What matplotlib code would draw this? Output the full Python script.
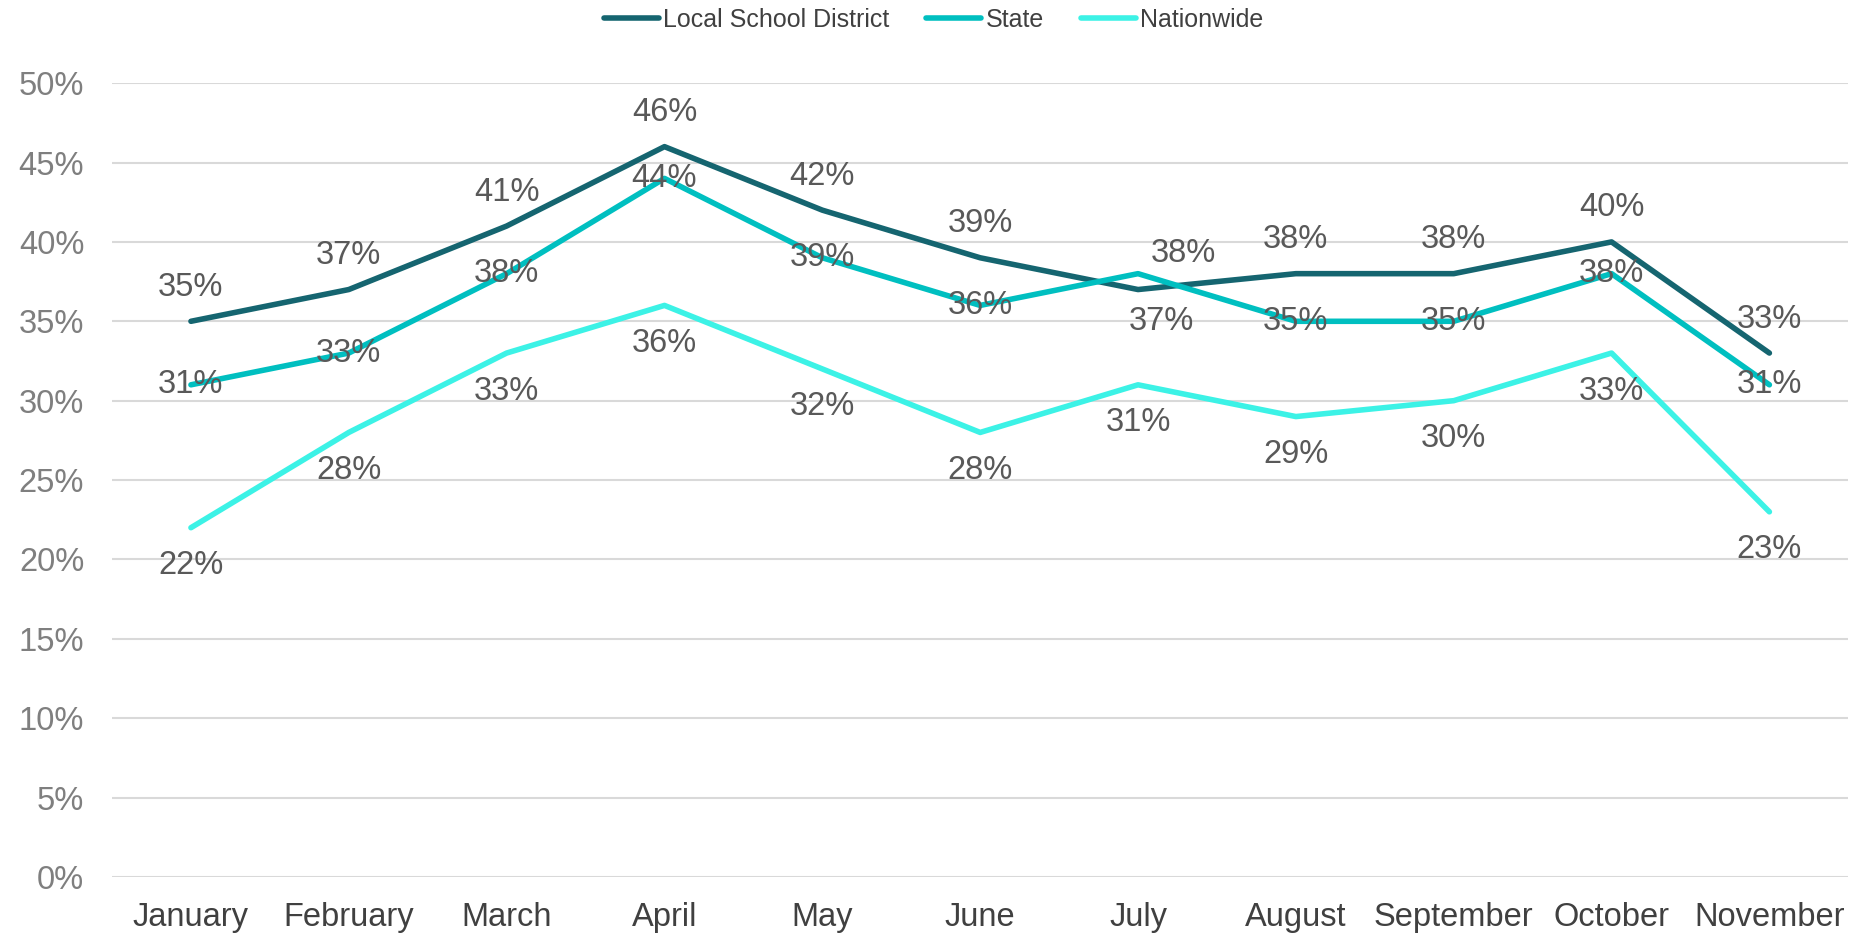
import matplotlib
matplotlib.use('Agg')
import matplotlib.pyplot as plt
from matplotlib.ticker import FuncFormatter

# data (percent)
months = ['January', 'February', 'March', 'April', 'May', 'June',
          'July', 'August', 'September', 'October', 'November']
local = [35, 37, 41, 46, 42, 39, 37, 38, 38, 40, 33]
state = [31, 33, 38, 44, 39, 36, 38, 35, 35, 38, 31]
nation = [22, 28, 33, 36, 32, 28, 31, 29, 30, 33, 23]

plt.rcParams['font.family'] = ['Liberation Sans', 'DejaVu Sans']

c_local = '#156570'
c_state = '#00BFC0'
c_nation = '#3CF2E6'
lab_col = '#595959'
fs = 23.5

fig = plt.figure(figsize=(18.67, 9.34), dpi=100)
ax = fig.add_axes([0.060, 0.061, 0.930, 0.850])

x = list(range(len(months)))
lw = 4.0
ax.plot(x, local, color=c_local, lw=lw, solid_capstyle='round', label='Local School District', zorder=3)
ax.plot(x, state, color=c_state, lw=lw, solid_capstyle='round', label='State', zorder=3)
ax.plot(x, nation, color=c_nation, lw=lw, solid_capstyle='round', label='Nationwide', zorder=3)

# data labels: offsets in points (pixel / 100 * 72)
def px(v):
    return v * 0.72

for i, v in enumerate(local):
    off = (px(23), px(-32)) if months[i] == 'July' else (0, px(34))
    ax.annotate(f'{v}%', (i, v), xytext=off, textcoords='offset points',
                ha='center', va='center', fontsize=fs, color=lab_col, zorder=4)
for i, v in enumerate(state):
    off = (px(45), px(20)) if months[i] == 'July' else (0, 0)
    ax.annotate(f'{v}%', (i, v), xytext=off, textcoords='offset points',
                ha='center', va='center', fontsize=fs, color=lab_col, zorder=4)
for i, v in enumerate(nation):
    ax.annotate(f'{v}%', (i, v), xytext=(0, px(-38)), textcoords='offset points',
                ha='center', va='center', fontsize=fs, color=lab_col, zorder=4)

ax.set_xlim(-0.5, len(months) - 0.5)
ax.set_ylim(0, 50)
ax.set_yticks(range(0, 51, 5))
ax.yaxis.set_major_formatter(FuncFormatter(lambda v, p: f'{int(v)}%'))
ax.set_xticks(x)
ax.set_xticklabels(months)
ax.tick_params(axis='y', length=0, pad=20, labelsize=fs, labelcolor='#7F7F7F')
ax.tick_params(axis='x', length=0, pad=18, labelsize=fs, labelcolor='#404040')
ax.grid(axis='y', color='#D9D9D9', lw=1.5, zorder=0)
ax.set_axisbelow(True)
for s in ax.spines.values():
    s.set_visible(False)

fig.legend(loc='center', bbox_to_anchor=(0.5, 0.979), ncol=3, frameon=False,
           fontsize=18, labelcolor='#404040', handlelength=2.2,
           handletextpad=0.16, columnspacing=1.5)

fig.savefig('out.png', dpi=100)
